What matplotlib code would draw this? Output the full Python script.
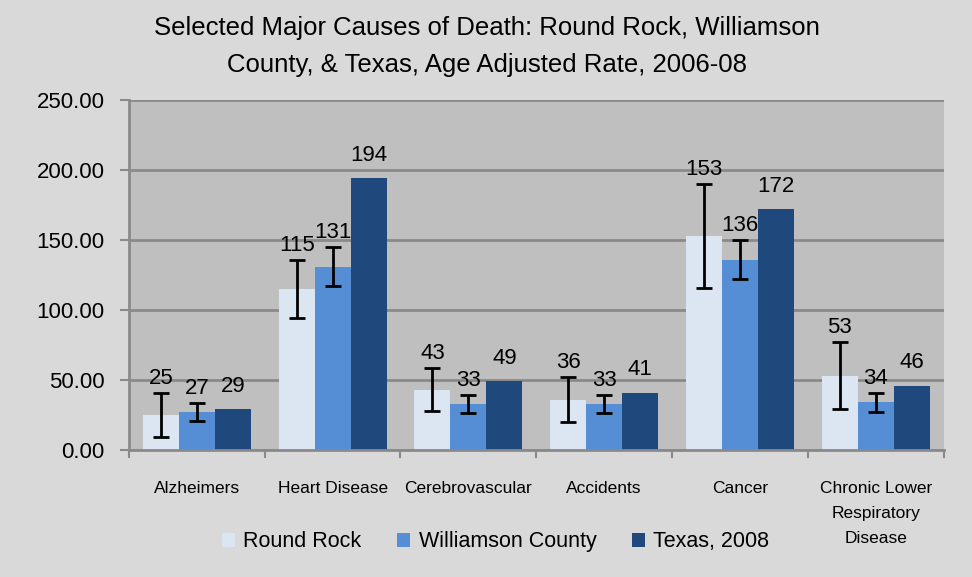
import numpy as np
import matplotlib.pyplot as plt
from matplotlib.ticker import FormatStrFormatter

plt.rcParams['font.family'] = ['Liberation Sans Narrow', 'Liberation Sans', 'DejaVu Sans']

categories = ['Alzheimers', 'Heart Disease', 'Cerebrovascular', 'Accidents',
              'Cancer', 'Chronic Lower\nRespiratory\nDisease']
series = ['Round Rock', 'Williamson County', 'Texas, 2008']
round_rock = [25, 115, 43, 36, 153, 53]
williamson = [27, 131, 33, 33, 136, 34]
texas = [29, 194, 49, 41, 172, 46]
# error bar half widths
round_rock_err = [15.5, 20.5, 15.3, 16, 37, 24]
williamson_err = [6.5, 14, 6.2, 6.3, 14, 7]

colors = ['#dce6f2', '#558ed5', '#1f497d']

fig = plt.figure(figsize=(9.72, 5.77), dpi=100)
fig.patch.set_facecolor('#d9d9d9')
ax = fig.add_axes([0.1327, 0.22, 0.838, 0.607])
ax.set_facecolor('#bfbfbf')

x = np.arange(len(categories))
w = 0.265
vals = [round_rock, williamson, texas]
errs = [round_rock_err, williamson_err, None]

for i, (v, e) in enumerate(zip(vals, errs)):
    pos = x + (i - 1) * w
    ax.bar(pos, v, w, color=colors[i], label=series[i], zorder=2)
    if e is not None:
        ax.errorbar(pos, v, yerr=e, fmt='none', ecolor='black', elinewidth=2,
                    capsize=6, capthick=2, zorder=3)
        tops = np.array(v) + np.array(e)
        off = 6.5
    else:
        tops = np.array(v)
        off = 12.5
    for p, t, val in zip(pos, tops, v):
        ax.annotate(str(val), (p, t), xytext=(0, off), textcoords='offset points',
                    ha='center', va='baseline', fontsize=16, zorder=4)

ax.set_ylim(0, 250)
ax.set_xlim(-0.5, len(categories) - 0.5)
ax.set_yticks(np.arange(0, 251, 50))
ax.yaxis.set_major_formatter(FormatStrFormatter('%.2f'))
ax.yaxis.grid(True, color='#8a8a8a', linewidth=2, zorder=0)
ax.set_axisbelow(True)

ax.set_xticks(np.arange(-0.5, len(categories), 1))
ax.set_xticklabels([])
ax.set_xticks(x, minor=True)
ax.set_xticklabels(categories, minor=True, fontsize=12.5, va='top', linespacing=1.85)
ax.tick_params(axis='x', which='minor', length=0, pad=22)
ax.tick_params(axis='x', which='major', length=6, color='#8a8a8a', width=1.5)
ax.tick_params(axis='y', length=6.5, color='#8a8a8a', width=1.5, labelsize=16, pad=11)

for s in ['top', 'right']:
    ax.spines[s].set_visible(False)
for s in ['left', 'bottom']:
    ax.spines[s].set_color('#8a8a8a')
    ax.spines[s].set_linewidth(2)

fig.text(0.501, 0.973, 'Selected Major Causes of Death: Round Rock, Williamson\n'
         'County, & Texas, Age Adjusted Rate, 2006-08',
         ha='center', va='top', fontsize=18.5, linespacing=1.7)

fig.legend(loc='center', bbox_to_anchor=(0.51, 0.061), ncol=3, frameon=False,
           fontsize=15.5, handlelength=0.6, handleheight=0.6, handletextpad=0.4,
           columnspacing=1.65)

fig.savefig('out.png', dpi=100, facecolor=fig.get_facecolor())
